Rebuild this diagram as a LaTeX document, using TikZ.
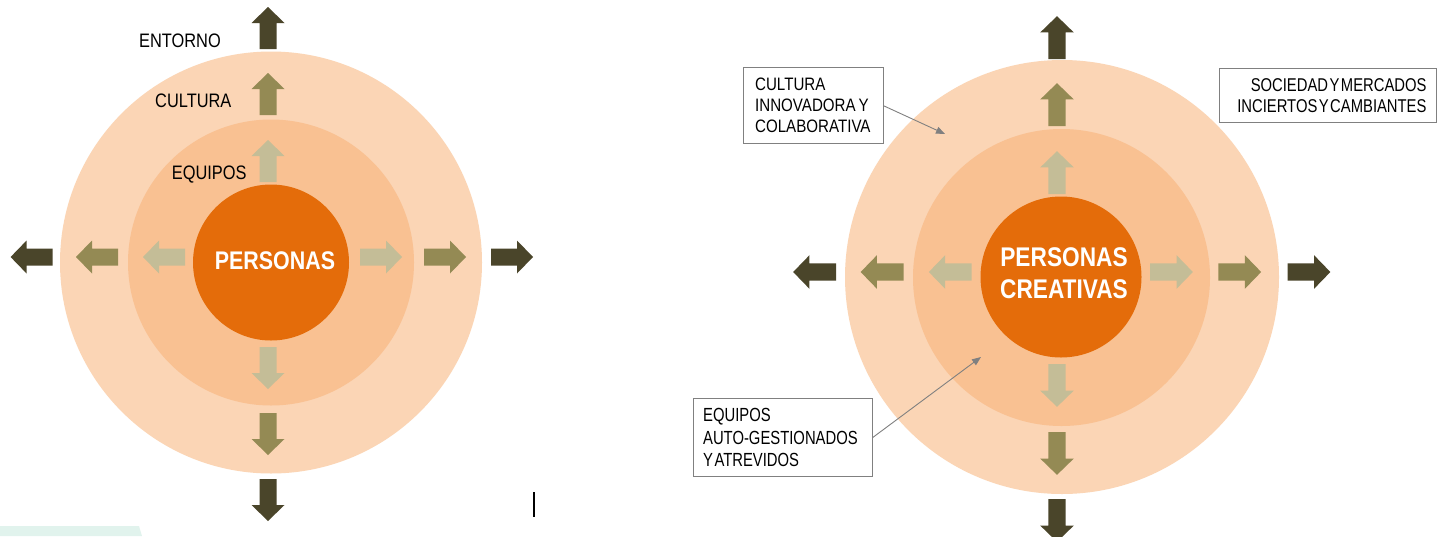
\documentclass[tikz,border=0pt]{standalone}
\usepackage{fontspec}
\setmainfont{Liberation Sans}
\newfontfamily\cond[FakeStretch=0.84]{Liberation Sans}
\newfontfamily\condm[FakeStretch=0.80]{Liberation Sans}
\newfontfamily\condn[FakeStretch=0.78]{Liberation Sans}
\newcommand\tspA{\spaceskip 3pt\relax}
\newcommand\tspB{\spaceskip 1.5pt\relax}
\usetikzlibrary{arrows.meta}
\definecolor{ringout}{HTML}{FBD5B5}
\definecolor{ringmid}{HTML}{F9C192}
\definecolor{core}{HTML}{E46C0A}
\definecolor{arrdark}{HTML}{4A452A}
\definecolor{arrolive}{HTML}{948A54}
\definecolor{arrpale}{HTML}{C4BD97}
\definecolor{callgray}{HTML}{808080}
\definecolor{mint}{HTML}{E1F3ED}
\tikzset{
  pics/blockarrow/.style={code={\fill[pic actions] (0,-8.5) -- (26,-8.5) -- (26,-16.5) -- (42,0) -- (26,16.5) -- (26,8.5) -- (0,8.5) -- cycle;}},
  ring/.style={circle, inner sep=0pt, draw=none},
  lbl/.style={inner sep=0pt, anchor=base west, font=\cond\fontsize{19.5}{22}\selectfont},
  coretxt/.style={inner sep=0pt, text=white, align=center},
  box/.style={draw=callgray, line width=0.9pt, anchor=north west, inner ysep=0pt, fill=white},
  callout/.style={draw=callgray, line width=0.9pt, -{Triangle[length=9pt,width=7pt]}},
  dk/.style={fill=arrdark}, ol/.style={fill=arrolive}, pl/.style={fill=arrpale},
}
\begin{document}
\begin{tikzpicture}[x=1pt,y=-1pt]
\useasboundingbox (0,0) rectangle (1439,536);
\fill[white] (0,0) rectangle (1439,536);
% ---------- left diagram ----------
\node[ring, fill=ringout, minimum size=422pt] (outL) at (271,262.5) {};
\node[ring, fill=ringmid, minimum size=286pt] (midL) at (271,262.5) {};
\node[ring, fill=core, minimum size=156pt] (coreL) at (271,262.5) {};
\node[coretxt, font=\cond\bfseries\fontsize{25.5}{30}\selectfont] (coreLt) at (275,261) {PERSONAS};
\node[lbl] (entL) at (139,47) {ENTORNO};
\node[lbl] (culL) at (155,107) {CULTURA};
\node[lbl] (equL) at (171.7,179) {EQUIPOS};
% up
\pic[dk, rotate=90] at (268,49) {blockarrow};
\pic[ol, rotate=90] at (268,115) {blockarrow};
\pic[pl, rotate=90] at (268,182) {blockarrow};
% down
\pic[pl, rotate=-90] at (268,347) {blockarrow};
\pic[ol, rotate=-90] at (268,413) {blockarrow};
\pic[dk, rotate=-90] at (268,479) {blockarrow};
% left
\pic[dk, rotate=180] at (52.6,257) {blockarrow};
\pic[ol, rotate=180] at (118,257) {blockarrow};
\pic[pl, rotate=180] at (185,257) {blockarrow};
% right
\pic[pl] at (360,257) {blockarrow};
\pic[ol] at (424,257) {blockarrow};
\pic[dk] at (491,257) {blockarrow};
% ---------- right diagram ----------
\node[ring, fill=ringout, minimum size=434pt] (outR) at (1062,277) {};
\node[ring, fill=ringmid, minimum size=297pt] (midR) at (1061.5,277.5) {};
\node[ring, fill=core, minimum size=161pt] (coreR) at (1061,277) {};
\node[coretxt, font=\cond\bfseries\fontsize{27}{32.6}\selectfont] (coreRt) at (1064,273) {PERSONAS\\CREATIVAS};
% up
\pic[dk, rotate=90, scale=1.02] at (1057,59) {blockarrow};
\pic[ol, rotate=90, scale=1.02] at (1057,126) {blockarrow};
\pic[pl, rotate=90, scale=1.02] at (1057,194) {blockarrow};
% down
\pic[pl, rotate=-90, scale=1.02] at (1057,364) {blockarrow};
\pic[ol, rotate=-90, scale=1.02] at (1057,432) {blockarrow};
\pic[dk, rotate=-90, scale=1.02] at (1057,499) {blockarrow};
% left
\pic[dk, rotate=180, scale=1.02] at (836,272) {blockarrow};
\pic[ol, rotate=180, scale=1.02] at (903.5,272) {blockarrow};
\pic[pl, rotate=180, scale=1.02] at (971.7,272) {blockarrow};
% right
\pic[pl, scale=1.02] at (1150,272) {blockarrow};
\pic[ol, scale=1.02] at (1218.3,272) {blockarrow};
\pic[dk, scale=1.02] at (1287.5,272) {blockarrow};
% boxes
\node[box, text width=116pt, inner xsep=12pt, minimum height=76pt, align=left, font=\cond\fontsize{18}{21}\selectfont] (boxC) at (742.7,67.3) {\tspA CULTURA\\\tspA INNOVADORA Y\\\tspA COLABORATIVA};
\node[box, text width=196.7pt, inner xsep=10pt, minimum height=53.4pt, align=right, font=\condm\fontsize{18.5}{21}\selectfont] (boxS) at (1219.3,68.3) {\tspB SOCIEDAD Y MERCADOS\\\tspB INCIERTOS Y CAMBIANTES};
\node[box, text width=159pt, inner xsep=10pt, minimum height=77.7pt, align=left, font=\condn\fontsize{19}{22.5}\selectfont] (boxE) at (692.7,398.3) {\tspB EQUIPOS\\\tspB AUTO-GESTIONADOS\\\tspB Y ATREVIDOS};
\coordinate (tipC) at (945,134);
\coordinate (tipE) at (981,357);
\draw[callout] (boxC.east) -- (tipC);
\draw[callout] (boxE.east) -- (tipE);
% stray marks
\fill[mint] (0,526) -- (139,526) -- (142,536) -- (0,536) -- cycle;
\coordinate (barT) at (534,492);
\coordinate (barB) at (534,517);
\draw[line width=1.6pt] (barT) -- (barB);
\end{tikzpicture}
\end{document}
